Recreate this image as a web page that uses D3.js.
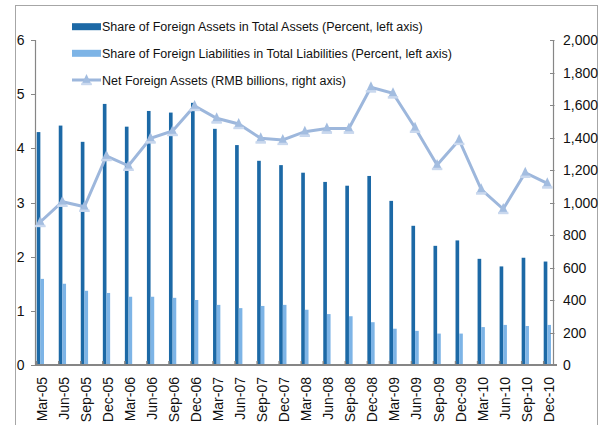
<!DOCTYPE html>
<html><head><meta charset="utf-8">
<script src="https://cdn.jsdelivr.net/npm/d3@7"></script>
<style>
body{margin:0;background:#fff;}
svg{display:block;font-family:"Liberation Sans",Arial,sans-serif;}
</style></head>
<body><svg id="c" width="603" height="425"></svg>
<script>
const categories = ["Mar-05","Jun-05","Sep-05","Dec-05","Mar-06","Jun-06","Sep-06","Dec-06","Mar-07","Jun-07","Sep-07","Dec-07","Mar-08","Jun-08","Sep-08","Dec-08","Mar-09","Jun-09","Sep-09","Dec-09","Mar-10","Jun-10","Sep-10","Dec-10"];
const foreignAssetsShare = [4.30,4.42,4.12,4.82,4.40,4.69,4.66,4.84,4.36,4.06,3.77,3.69,3.55,3.38,3.31,3.49,3.03,2.57,2.20,2.30,1.96,1.82,1.98,1.91];
const foreignLiabShare = [1.59,1.50,1.37,1.33,1.26,1.26,1.24,1.20,1.11,1.05,1.09,1.11,1.02,0.94,0.90,0.79,0.67,0.63,0.58,0.58,0.70,0.74,0.72,0.74];
const netForeignAssets = [880,1005,974,1286,1226,1395,1440,1594,1518,1483,1395,1385,1436,1456,1456,1709,1672,1460,1231,1385,1081,960,1183,1118];
const leftTicks = [0,1,2,3,4,5,6];
const rightTicks = [0,200,400,600,800,1000,1200,1400,1600,1800,2000];
const legendLabels = ["Share of Foreign Assets in Total Assets (Percent, left axis)","Share of Foreign Liabilities in Total Liabilities (Percent, left axis)","Net Foreign Assets (RMB billions, right axis)"];

const C_DARK="#1c69a6", C_LIGHT="#7db4e6", C_LINE="#9db7dc", C_TRI="#a3bde0", C_TRI_BASE="#c9d8ee";
const svg=d3.select("#c");
svg.append("rect").attr("x",15.5).attr("y",5.5).attr("width",582).attr("height",440).attr("fill","none").attr("stroke","#a6a6a6").attr("stroke-width",1);

const x=d3.scalePoint().domain(categories).range([40.3,547.3]);
const sub=d3.scaleBand().domain(["a","l"]).range([-3.6,3.7]).padding(0);
const yL=d3.scaleLinear().domain([0,6]).range([365,40]);
const yR=d3.scaleLinear().domain([0,2000]).range([365,40]);

// bars
const g=svg.append("g");
g.selectAll("rect.a").data(foreignAssetsShare).join("rect").attr("class","a")
 .attr("x",(d,i)=>x(categories[i])+sub("a")).attr("width",sub.bandwidth())
 .attr("y",d=>yL(d)).attr("height",d=>yL(0)-yL(d)).attr("fill",C_DARK);
g.selectAll("rect.l").data(foreignLiabShare).join("rect").attr("class","l")
 .attr("x",(d,i)=>x(categories[i])+sub("l")).attr("width",sub.bandwidth())
 .attr("y",d=>yL(d)).attr("height",d=>yL(0)-yL(d)).attr("fill",C_LIGHT);

// axes lines
svg.append("line").attr("x1",35.5).attr("x2",35.5).attr("y1",40).attr("y2",365).attr("stroke","#868686").attr("stroke-width",1.2);
svg.append("line").attr("x1",553.5).attr("x2",553.5).attr("y1",40).attr("y2",365).attr("stroke","#868686").attr("stroke-width",1.2);
svg.append("line").attr("x1",35).attr("x2",557).attr("y1",365).attr("y2",365).attr("stroke","#868686").attr("stroke-width",2);

// x ticks
svg.selectAll("line.xt").data(categories).join("line").attr("class","xt")
 .attr("x1",d=>x(d)-3.6).attr("x2",d=>x(d)-3.6).attr("y1",361).attr("y2",365).attr("stroke","#868686").attr("stroke-width",1.5);

// left ticks
svg.selectAll("line.lt").data(leftTicks).join("line").attr("class","lt")
 .attr("x1",31).attr("x2",35.5).attr("y1",d=>Math.round(yL(d))+0.5).attr("y2",d=>Math.round(yL(d))+0.5).attr("stroke","#868686");
svg.selectAll("text.lt").data(leftTicks).join("text").attr("class","lt")
 .attr("x",24.5).attr("y",d=>yL(d)).attr("dy","0.36em").attr("text-anchor","end")
 .attr("font-size",14).attr("fill","#111").text(d=>d);
// right ticks
svg.selectAll("line.rt").data(rightTicks).join("line").attr("class","rt")
 .attr("x1",550).attr("x2",554.5).attr("y1",d=>Math.round(yR(d))+0.5).attr("y2",d=>Math.round(yR(d))+0.5).attr("stroke","#868686");
svg.selectAll("text.rt").data(rightTicks).join("text").attr("class","rt")
 .attr("x",563).attr("y",d=>yR(d)).attr("dy","0.36em").attr("text-anchor","start")
 .attr("font-size",14).attr("fill","#111").text(d=>d3.format(",")(d));

// x labels
svg.selectAll("text.xl").data(categories).join("text").attr("class","xl")
 .attr("transform",d=>`translate(${x(d)+1.4},377) rotate(-90)`)
 .attr("dy","0.36em").attr("text-anchor","end").attr("font-size",14).attr("fill","#111").text(d=>d);

// line
const line=d3.line().x((d,i)=>x(categories[i])).y(d=>yR(d));
svg.append("path").datum(netForeignAssets).attr("d",line).attr("fill","none").attr("stroke",C_LINE).attr("stroke-width",3);
function marker(sel){
  sel.append("path").attr("d","M0,-6L5.2,5L-5.2,5Z").attr("fill",C_TRI);
  sel.append("rect").attr("x",-5.2).attr("y",2.8).attr("width",10.4).attr("height",2.4).attr("fill",C_TRI_BASE);
}
svg.selectAll("g.tri").data(netForeignAssets).join("g").attr("class","tri")
 .attr("transform",(d,i)=>`translate(${x(categories[i])},${yR(d)})`).call(marker);

// legend
const lg=svg.append("g");
const rows=[26.7,53.3,80];
lg.append("rect").attr("x",72).attr("y",rows[0]-3.5).attr("width",29).attr("height",7).attr("fill",C_DARK);
lg.append("rect").attr("x",72).attr("y",rows[1]-3.5).attr("width",29).attr("height",7).attr("fill",C_LIGHT);
lg.append("line").attr("x1",72).attr("x2",101).attr("y1",rows[2]).attr("y2",rows[2]).attr("stroke",C_LINE).attr("stroke-width",3);
lg.append("g").attr("transform",`translate(86.5,${rows[2]})`).call(marker);
lg.selectAll("text").data(legendLabels).join("text").attr("x",102).attr("y",(d,i)=>rows[i]).attr("dy","0.36em")
 .attr("font-size",12.5).attr("fill","#111").text(d=>d);
</script></body></html>
